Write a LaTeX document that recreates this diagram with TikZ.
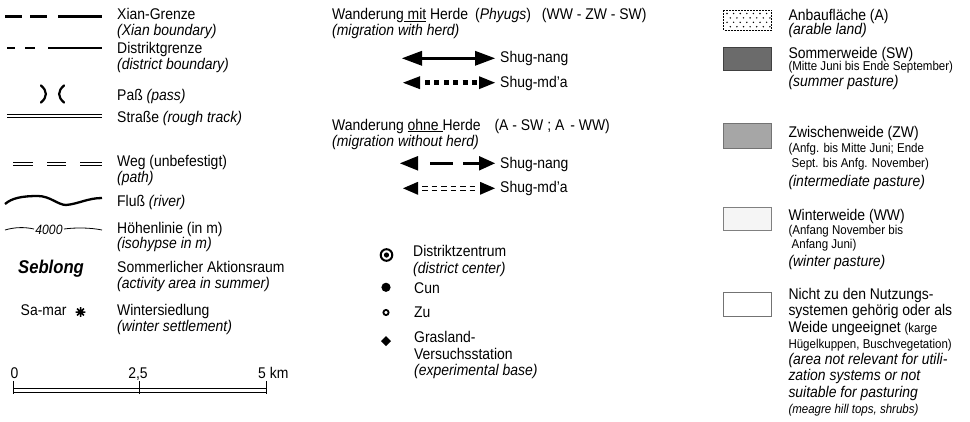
\documentclass[tikz,border=0pt]{standalone}
\usepackage{fontspec}
\setmainfont[FakeStretch=0.9]{Liberation Sans}
\newcommand\mz{\fontsize{15.5}{16}\selectfont}
\newcommand\sz{\fontsize{12.8}{14}\selectfont}
\begin{document}
\begin{tikzpicture}[x=1pt,y=-1pt,
  t/.style={anchor=base west,inner sep=0pt,font=\mz},
  ti/.style={anchor=base west,inner sep=0pt,font=\mz\itshape},
  ts/.style={anchor=base west,inner sep=0pt,font=\sz},
  tsi/.style={anchor=base west,inner sep=0pt,font=\sz\itshape},
  head/.style={fill=black},
  swatch/.style={line width=0.8pt},
]
\useasboundingbox (0,0) rectangle (970,421);
% ---------------- left column ----------------
\draw[line width=3pt] (5,16)--(22,16) (30,16)--(47,16) (58,16)--(102,16);
\node[t] (xg) at (117,19.8) {Xian-Grenze};
\node[ti] (xb) at (117,35) {(Xian boundary)};
\draw[line width=2pt] (7,48)--(15,48) (25,48)--(35,48) (48,48)--(102,48);
\node[t] (dg) at (117,53) {Distriktgrenze};
\node[ti] (db) at (117,69.5) {(district boundary)};
\draw[line width=2.2pt,line cap=round] (41,85.5) .. controls (47.5,91) and (47.5,97) .. (41,102.5);
\draw[line width=2.2pt,line cap=round] (64,85.5) .. controls (57.5,91) and (57.5,97) .. (64,102.5);
\node[t] (pa) at (117,100) {Paß \textit{(pass)}};
\draw[line width=1pt] (7,114.3)--(102,114.3) (7,117.5)--(102,117.5);
\node[t] (st) at (117,122) {Straße \textit{(rough track)}};
\foreach \a/\b in {13/33,47/66,80/102}
  \draw[line width=1pt] (\a,162)--(\b,162) (\a,165.3)--(\b,165.3);
\node[t] (wg) at (117,166) {Weg (unbefestigt)};
\node[ti] (wp) at (117,182) {(path)};
\draw[line width=2.3pt] (5,204) .. controls (12,198) and (22,196) .. (38,196)
  .. controls (50,196) and (58,205) .. (66,205) .. controls (78,204) and (88,198) .. (102,198);
\node[t] (fl) at (117,206) {Fluß \textit{(river)}};
\draw[line width=0.8pt] (5,230) .. controls (15,227) and (25,227) .. (34,229);
\node[anchor=base,inner sep=0pt,font=\fontsize{13.5}{14}\selectfont\itshape] (h4) at (49,234) {4000};
\draw[line width=0.8pt] (64,229) .. controls (75,227.5) and (90,227.5) .. (102,230);
\node[t] (hl) at (117,233) {Höhenlinie (in m)};
\node[ti] (hi) at (117,248.5) {(isohypse in m)};
\node[anchor=base west,inner sep=0pt,font=\fontsize{18.5}{20}\selectfont\bfseries\itshape] (sb) at (18,273.5) {Seblong};
\node[t] (sa) at (117,272) {Sommerlicher Aktionsraum};
\node[ti] (aa) at (117,288.5) {(activity area in summer)};
\node[t] (sm) at (20.5,315.5) {Sa-mar};
\draw[line width=1.5pt] (80.5,312) +(0:4.8) -- +(180:4.8) +(45:4.8) -- +(225:4.8)
  +(90:4.8) -- +(270:4.8) +(135:4.8) -- +(315:4.8);
\fill (80.5,312) circle (2.3);
\node[t] (ws) at (117,315.5) {Wintersiedlung};
\node[ti] (wst) at (117,331.5) {(winter settlement)};
% scale bar
\node[anchor=base,inner sep=0pt,font=\mz] (s0) at (14.5,378) {0};
\node[anchor=base,inner sep=0pt,font=\mz] (s1) at (138,378) {2,5};
\node[t] (s2) at (258,378) {5 km};
\draw[line width=0.7pt] (13,388) rectangle (266,392);
\draw[line width=0.9pt] (13,381)--(13,394) (139,381)--(139,394) (266,381)--(266,394);
% ---------------- middle column ----------------
\node[t] (wm) at (332,19.5) {Wanderung\underline{ mit} Herde\hspace{7pt}(\textit{Phyugs})\hspace{11pt}(WW - ZW - SW)};
\node[ti] (wmh) at (332,35) {(migration with herd)};
% arrow 1
\draw[line width=3.5pt] (418,58.3)--(479,58.3);
\fill[head] (402,58.3)--(422,50.8)--(422,65.8)--cycle;
\fill[head] (495,58.3)--(475,50.8)--(475,65.8)--cycle;
\node[t] (sn1) at (500,62) {Shug-nang};
% arrow 2
\draw[line width=4.5pt,dash pattern=on 5pt off 4.4pt] (425,82.7)--(477,82.7);
\fill[head] (403,82.7)--(420,76.2)--(420,89.2)--cycle;
\fill[head] (495,82.7)--(479,76.2)--(479,89.2)--cycle;
\node[t] (sm1) at (500,87) {Shug-md'a};
\node[t] (wo) at (332,130) {Wanderung \underline{ohne }Herde\hspace{14pt}(A - SW ; A\hspace{6pt}- WW)};
\node[ti] (woh) at (332,146) {(migration without herd)};
% arrow 3
\draw[line width=3.5pt] (430,163.3)--(453,163.3) (463,163.3)--(482,163.3);
\fill[head] (400,163.3)--(418,156)--(418,170.6)--cycle;
\fill[head] (495,163.3)--(479,156)--(479,170.6)--cycle;
\node[t] (sn2) at (500,168) {Shug-nang};
% arrow 4
\foreach \a in {422,431.5,441,450.5,460,469.5}
  \draw[line width=1.4pt] (\a,186.3)--(\a+5.5,186.3) (\a,190.3)--(\a+5.5,190.3);
\fill[head] (403,188.3)--(418,181.8)--(418,194.8)--cycle;
\fill[head] (495,188.3)--(480,181.8)--(480,194.8)--cycle;
\node[t] (sm2) at (500,192) {Shug-md'a};
% symbols
\draw[line width=2pt] (386.5,255) circle (5.8);
\fill (386.5,255) circle (2.6);
\node[t] (dz) at (413,256.5) {Distriktzentrum};
\node[ti] (dc) at (413,273) {(district center)};
\fill (386,287.3) circle (4.6);
\node[t] (cu) at (414,293.5) {Cun};
\draw[line width=1.8pt] (386,312.5) circle (2.6);
\node[t] (zu) at (414,317) {Zu};
\fill (386,336) -- (391,341) -- (386,346) -- (381,341) -- cycle;
\node[t] (gl) at (414,342) {Grasland-};
\node[t] (vs) at (414,359) {Versuchsstation};
\node[ti] (eb) at (414,375.5) {(experimental base)};
% ---------------- right column ----------------
\draw[swatch,dash pattern=on 2pt off 1pt] (723.5,10) rectangle (771.5,30);
\foreach \i in {0,1,2,3}
  \foreach \j in {0,...,6}
    \fill ({727+6.6*\j+mod(\i,2)*3.3},{13.5+4.4*\i}) circle (0.8);
\node[t] (ab) at (788.3,20) {Anbaufläche (A)};
\node[ti] (al) at (788.3,34.5) {(arable land)};
\filldraw[swatch,fill=black!58,draw=black!75] (723.5,47) rectangle (771.5,70);
\node[t] (so) at (788.3,58) {Sommerweide (SW)};
\node[ts] (so2) at (788.3,70) {(Mitte Juni bis Ende September)};
\node[ti] (so3) at (788.3,86.5) {(summer pasture)};
\filldraw[swatch,fill=black!35,draw=black!55] (723.5,123.5) rectangle (771.5,148);
\node[t] (zw) at (788.3,137) {Zwischenweide (ZW)};
\node[ts] (zw2) at (788.3,152) {(Anfg. bis Mitte Juni; Ende};
\node[ts] (zw3) at (791.5,167) {Sept. bis Anfg. November)};
\node[ti] (zw4) at (788.3,186) {(intermediate pasture)};
\filldraw[swatch,fill=black!4,draw=black!50] (723.5,207) rectangle (771.5,230);
\node[t] (ww) at (788.3,220) {Winterweide (WW)};
\node[ts] (ww2) at (788.3,234.5) {(Anfang November bis};
\node[ts] (ww3) at (791.5,248.5) {Anfang Juni)};
\node[ti] (ww4) at (788.3,266) {(winter pasture)};
\filldraw[swatch,fill=white,draw=black!55] (723.5,292) rectangle (771.5,316.5);
\node[t] (n1) at (788.3,299.5) {Nicht zu den Nutzungs-};
\node[t] (n2) at (788.3,315.8) {systemen gehörig oder als};
\node[t] (n3) at (788.3,332) {Weide ungeeignet {\sz(karge}};
\node[ts] (n4) at (788.3,348.3) {Hügelkuppen, Buschvegetation)};
\node[ti] (n5) at (788.3,364.6) {(area not relevant for utili-};
\node[ti] (n6) at (788.3,380.9) {zation systems or not};
\node[ti] (n7) at (788.3,397) {suitable for pasturing};
\node[tsi] (n8) at (788.3,413) {(meagre hill tops, shrubs)};
\end{tikzpicture}
\end{document}
